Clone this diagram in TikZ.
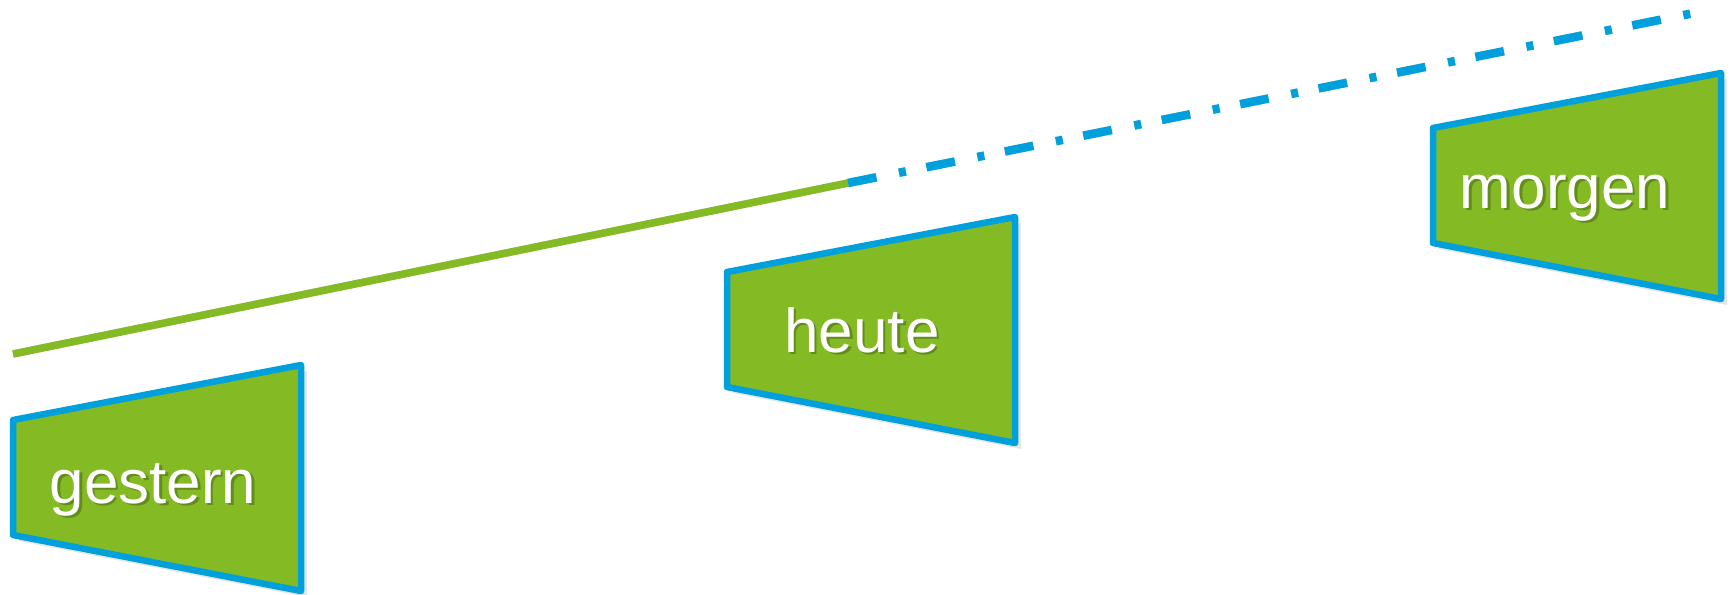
\documentclass[tikz,border=0pt]{standalone}
\usepackage{fontspec}
\setmainfont{Liberation Sans}
\usepackage{tikz}
\usepackage{xcolor}
\usetikzlibrary{calc}

\definecolor{gruen}{RGB}{132,187,36}
\definecolor{blau}{RGB}{0,160,220}
\newcommand\textschatten[1]{\rlap{\kern2.5pt\raisebox{-2.5pt}{\color{gruen!75!black}#1}}#1}

\begin{document}
\begin{tikzpicture}[x=1pt,y=-1pt,line join=round,font=\fontsize{62}{62}\selectfont]

    \tikzstyle{zeitbox}=[draw=blau,line width=6.5pt,fill=gruen]
    \tikzstyle{zeittext}=[text=white,inner sep=0pt,anchor=base]
    \tikzstyle{schatten}=[black,opacity=.1]
    \tikzstyle{zeitlinie}=[line width=7.5pt]
    \tikzstyle{zukunft}=[line width=8.5pt,dash pattern=on 29pt off 23pt on 7pt off 21pt]

    \useasboundingbox (0,0) rectangle (1731,594);

    \coordinate (start) at (13,354);
    \coordinate (jetzt) at (848,183);
    \coordinate (ende)  at (1699,12);

    \foreach \s in {3,5} {
        \draw[schatten,zeitlinie,shift={(\s,\s)}] (start) -- (jetzt);
        \draw[schatten,zukunft,shift={(\s,\s)}] (jetzt) -- (ende);
    }
    \draw[gruen,zeitlinie] (start) -- (jetzt);
    \draw[blau,zukunft] (jetzt) -- (ende);

    \foreach \n/\x/\y/\tx/\ty in {gestern/13/420/153/503, heute/727/272/862/352, morgen/1433/128/1565/208} {
        \foreach \s in {3,6}
            \fill[schatten,shift={(\x+\s,\y+\s)}] (0,0) -- (288,-55) -- (288,171) -- (0,115) -- cycle;
        \draw[zeitbox,shift={(\x,\y)}] (0,0) -- (288,-55) -- (288,171) -- (0,115) -- cycle;
        \node[zeittext] (\n) at (\tx,\ty) {\textschatten{\n}};
    }
\end{tikzpicture}
\end{document}
